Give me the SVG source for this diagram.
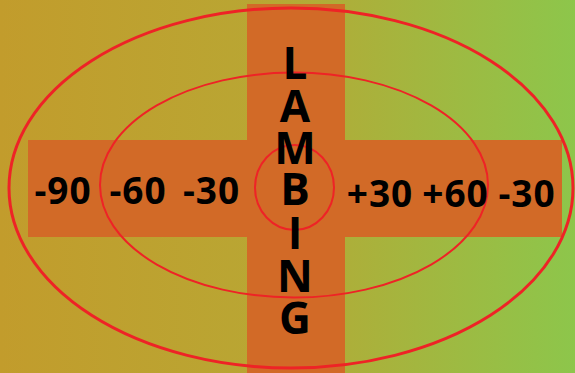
<svg xmlns="http://www.w3.org/2000/svg" width="575" height="373" viewBox="0 0 575 373">
<defs>
<linearGradient id="bg" x1="0" y1="0" x2="1" y2="0">
<stop offset="0" stop-color="#C29C2C"/>
<stop offset="0.45" stop-color="#B9A633"/>
<stop offset="1" stop-color="#8DC64B"/>
</linearGradient>
</defs>
<style>
.bar{fill:#D26A27}
.ring{fill:none;stroke:#EE2326}
.t{font-family:"Open Sans","Noto Sans",sans-serif;font-weight:bold;fill:#000;text-anchor:middle}
.n{font-size:37px;letter-spacing:1px}
.l{font-size:44px}
</style>
<rect width="575" height="373" fill="url(#bg)"/>
<g id="cross">
<rect class="bar" x="247" y="4" width="98" height="369"/>
<rect class="bar" x="28" y="140" width="534" height="97"/>
</g>
<g id="rings">
<ellipse class="ring" cx="291" cy="188" rx="282" ry="180" stroke-width="3"/>
<ellipse class="ring" cx="294" cy="185" rx="194" ry="112.5" stroke-width="2"/>
<ellipse class="ring" cx="294.5" cy="187.5" rx="39.5" ry="42.5" stroke-width="2"/>
</g>
<g id="numbers">
<text class="t n" x="63" y="204">-90</text>
<text class="t n" x="138" y="204">-60</text>
<text class="t n" x="211.5" y="204">-30</text>
<text class="t n" x="380" y="207">+30</text>
<text class="t n" x="455.5" y="207">+60</text>
<text class="t n" x="527" y="207">-30</text>
</g>
<g id="lambing">
<text class="t l" x="295" y="79">L</text>
<text class="t l" x="295" y="122">A</text>
<text class="t l" x="295" y="164">M</text>
<text class="t l" x="295" y="205">B</text>
<text class="t l" x="295" y="249">I</text>
<text class="t l" x="295" y="292">N</text>
<text class="t l" x="295" y="334">G</text>
</g>
</svg>
